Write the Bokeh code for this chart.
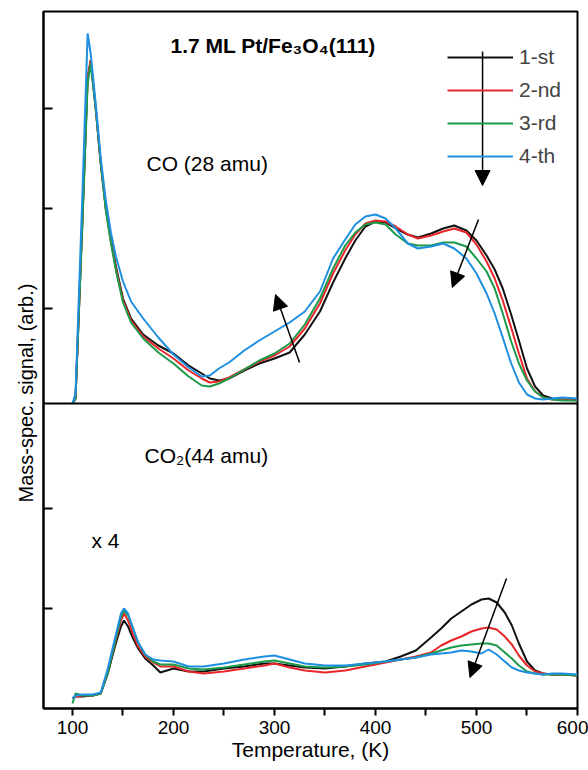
from bokeh.plotting import figure
from bokeh.models import (Range1d, FixedTicker, Span, Arrow, NormalHead, Label,
                          Legend, LegendItem, Title)
from bokeh.embed import file_html
from bokeh.resources import INLINE

# ---------------- data ----------------
series_names = ["1-st", "2-nd", "3-rd", "4-th"]
series_colors = ["#111111", "#e8262a", "#1b9a4a", "#1e8fe0"]

# CO (28 amu) desorption, top panel (arb. units, offset by panel)
t_co = [100, 103, 110, 115, 118, 123, 128, 133, 138, 143, 150, 158, 170, 185, 200,
        215, 228, 236, 245, 255, 270, 285, 300, 315, 330, 345, 358, 370, 380, 390,
        400, 410, 420, 432, 442, 455, 467, 478, 490, 500, 510, 518, 526, 534, 542,
        550, 558, 566, 575, 585, 600]
co_1st = [3.05, 3.10, 4.92, 6.30, 6.48, 6.00, 5.45, 5.00, 4.70, 4.42, 4.10, 3.90, 3.74, 3.63, 3.55,
          3.43, 3.35, 3.30, 3.28, 3.30, 3.38, 3.45, 3.50, 3.56, 3.74, 3.97, 4.26, 4.50, 4.68, 4.82,
          4.87, 4.86, 4.80, 4.74, 4.71, 4.75, 4.80, 4.83, 4.78, 4.68, 4.53, 4.39, 4.20, 3.95, 3.68,
          3.40, 3.22, 3.13, 3.10, 3.09, 3.09]
co_2nd = [3.05, 3.10, 4.95, 6.32, 6.48, 6.00, 5.45, 5.00, 4.68, 4.40, 4.08, 3.88, 3.72, 3.60, 3.50,
          3.38, 3.30, 3.26, 3.27, 3.31, 3.39, 3.47, 3.53, 3.62, 3.80, 4.05, 4.35, 4.58, 4.74, 4.85,
          4.88, 4.87, 4.82, 4.74, 4.70, 4.73, 4.77, 4.80, 4.76, 4.64, 4.47, 4.30, 4.08, 3.82, 3.55,
          3.30, 3.17, 3.11, 3.09, 3.09, 3.08]
co_3rd = [3.05, 3.10, 4.90, 6.25, 6.45, 6.00, 5.45, 4.98, 4.66, 4.38, 4.06, 3.86, 3.70, 3.56, 3.45,
          3.32, 3.23, 3.22, 3.25, 3.30, 3.39, 3.48, 3.55, 3.65, 3.84, 4.10, 4.40, 4.63, 4.76, 4.84,
          4.86, 4.84, 4.74, 4.65, 4.63, 4.63, 4.66, 4.66, 4.62, 4.50, 4.37, 4.20, 3.95, 3.68, 3.45,
          3.28, 3.17, 3.11, 3.09, 3.08, 3.08]
co_4th = [3.05, 3.15, 5.20, 6.75, 6.55, 6.05, 5.50, 5.08, 4.76, 4.52, 4.27, 4.07, 3.90, 3.71, 3.54,
          3.41, 3.32, 3.33, 3.40, 3.46, 3.58, 3.68, 3.77, 3.86, 3.97, 4.17, 4.50, 4.69, 4.84, 4.92,
          4.94, 4.90, 4.80, 4.65, 4.60, 4.62, 4.65, 4.60, 4.50, 4.35, 4.15, 3.95, 3.71, 3.46, 3.26,
          3.14, 3.10, 3.09, 3.10, 3.11, 3.10]

# CO2 (44 amu) x4, bottom panel
t_co2 = [100, 103, 110, 120, 128, 135, 142, 148, 151, 155, 160, 165, 172, 180, 187,
         200, 215, 230, 250, 270, 290, 300, 315, 330, 350, 370, 390, 410, 425, 440,
         455, 465, 475, 485, 495, 505, 512, 520, 528, 535, 542, 550, 558, 566, 575,
         585, 600]
co2_1st = [0.10, 0.12, 0.12, 0.13, 0.15, 0.35, 0.62, 0.82, 0.88, 0.82, 0.70, 0.60, 0.50, 0.43, 0.36,
           0.40, 0.37, 0.37, 0.40, 0.42, 0.45, 0.45, 0.43, 0.41, 0.40, 0.42, 0.45, 0.47, 0.52, 0.58,
           0.71, 0.80, 0.90, 0.97, 1.04, 1.09, 1.10, 1.06, 0.96, 0.83, 0.65, 0.47, 0.38, 0.35, 0.34,
           0.34, 0.33]
co2_2nd = [0.10, 0.12, 0.13, 0.13, 0.15, 0.37, 0.65, 0.88, 0.95, 0.88, 0.74, 0.62, 0.52, 0.46, 0.42,
           0.42, 0.37, 0.35, 0.37, 0.40, 0.43, 0.45, 0.41, 0.38, 0.36, 0.38, 0.42, 0.46, 0.49, 0.52,
           0.56, 0.63, 0.68, 0.72, 0.77, 0.80, 0.81, 0.79, 0.72, 0.64, 0.53, 0.43, 0.37, 0.35, 0.34,
           0.34, 0.33]
co2_3rd = [0.05, 0.15, 0.13, 0.13, 0.15, 0.36, 0.66, 0.92, 0.98, 0.93, 0.80, 0.66, 0.54, 0.47, 0.44,
           0.44, 0.40, 0.39, 0.41, 0.44, 0.47, 0.48, 0.45, 0.42, 0.41, 0.42, 0.44, 0.47, 0.49, 0.51,
           0.55, 0.58, 0.61, 0.63, 0.64, 0.65, 0.65, 0.63, 0.56, 0.50, 0.43, 0.37, 0.35, 0.34, 0.34,
           0.34, 0.33]
co2_4th = [0.10, 0.13, 0.14, 0.14, 0.16, 0.40, 0.70, 0.95, 1.00, 0.95, 0.80, 0.66, 0.54, 0.49, 0.48,
           0.47, 0.42, 0.42, 0.45, 0.49, 0.52, 0.53, 0.49, 0.45, 0.43, 0.43, 0.45, 0.47, 0.49, 0.51,
           0.54, 0.55, 0.56, 0.58, 0.57, 0.55, 0.59, 0.54, 0.47, 0.41, 0.38, 0.36, 0.35, 0.34, 0.35,
           0.35, 0.34]

x_major_ticks = [100, 200, 300, 400, 500, 600]
x_minor_ticks = [150, 250, 350, 450, 550]
y_ticks = [1, 2, 4, 5, 6]
panel_divider = 3.05

co_series = [co_1st, co_2nd, co_3rd, co_4th]
co2_series = [co2_1st, co2_2nd, co2_3rd, co2_4th]

# ---------------- figure ----------------
FONT = "Liberation Sans"
p = figure(width=588, height=770, output_backend="svg", toolbar_location=None,
           x_range=Range1d(71.3, 600), y_range=Range1d(0, 6.97),
           min_border_left=43, min_border_right=11, min_border_top=11,
           min_border_bottom=62)
p.grid.visible = False
p.background_fill_color = "white"
p.border_fill_color = "white"
p.outline_line_color = "black"
p.outline_line_width = 2

xa = p.xaxis[0]
xa.ticker = FixedTicker(ticks=x_major_ticks, minor_ticks=x_minor_ticks)
xa.major_tick_in = 0
xa.major_tick_out = 7
xa.minor_tick_in = 0
xa.minor_tick_out = 7
xa.major_tick_line_width = 2
xa.minor_tick_line_width = 2
xa.axis_line_width = 2
xa.major_label_text_font = FONT
xa.major_label_text_font_size = "19px"
xa.major_label_text_color = "black"
xa.major_label_standoff = 5
xa.axis_label = "Temperature, (K)"
xa.axis_label_text_font = FONT
xa.axis_label_text_font_size = "21px"
xa.axis_label_text_font_style = "normal"
xa.axis_label_text_color = "black"
xa.axis_label_standoff = 1

ya = p.yaxis[0]
ya.ticker = FixedTicker(ticks=y_ticks, minor_ticks=[])
ya.major_tick_in = 9
ya.major_tick_out = 0
ya.major_tick_line_width = 2
ya.axis_line_width = 2
ya.major_label_overrides = {t: "" for t in y_ticks}
ya.major_label_text_font_size = "1px"
ya.major_label_standoff = 0

# y-axis title, placed on the left side (offset along the axis from the bottom)
p.add_layout(Title(text="Mass-spec. signal, (arb.)", align="left", offset=206,
                   text_font=FONT, text_font_size="20px", text_font_style="normal",
                   text_color="black", standoff=14), "left")

# curves
legend_items = []
for name, col, co, co2 in zip(series_names, series_colors, co_series, co2_series):
    r = p.line(t_co, co, line_color=col, line_width=2)
    p.line(t_co2, co2, line_color=col, line_width=2)
    legend_items.append(LegendItem(label=name, renderers=[r]))

# panel divider
p.add_layout(Span(location=panel_divider, dimension="width", line_color="black",
                  line_width=2))

# legend
leg = Legend(items=legend_items, location=(404, 540), orientation="vertical",
             glyph_width=66, glyph_height=22, label_height=22, spacing=9,
             label_standoff=6, padding=0, margin=0,
             label_text_font=FONT, label_text_font_size="21px",
             border_line_alpha=0, background_fill_alpha=0)
p.add_layout(leg)

# arrows
def arrow(x0, y0, x1, y1):
    p.add_layout(Arrow(end=NormalHead(size=15, fill_color="black", line_color="black"),
                       x_start=x0, y_start=y0, x_end=x1, y_end=y1,
                       line_color="black", line_width=1.5))

arrow(506, 6.57, 506, 5.23)
arrow(324.8, 3.46, 301, 4.14)
arrow(502, 4.89, 476, 4.21)
arrow(529.7, 1.30, 493.5, 0.31)

# text labels
def label(x, y, text, size="21px", style="normal"):
    p.add_layout(Label(x=x, y=y, text=text, text_font=FONT, text_font_size=size,
                       text_font_style=style, text_align="left",
                       text_baseline="middle", text_color="black"))

label(197, 6.63, "1.7 ML Pt/Fe\u2083O\u2084(111)", style="bold")
label(173.3, 5.45, "CO (28 amu)")
label(171.3, 2.53, "CO\u2082(44 amu)")
label(118.8, 1.68, "x 4")

open("out.html", "w").write(file_html(p, INLINE))
